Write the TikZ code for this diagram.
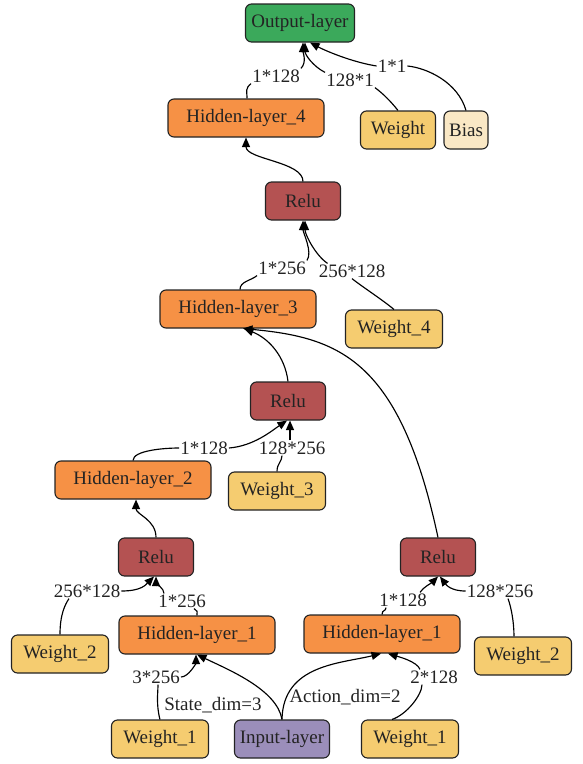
\documentclass[tikz,border=0pt]{standalone}
\usepackage{fontspec}
\setmainfont{Liberation Serif}
\usetikzlibrary{arrows.meta}
\definecolor{outc}{RGB}{59,169,91}
\definecolor{hidc}{RGB}{246,145,69}
\definecolor{reluc}{RGB}{180,82,82}
\definecolor{wgtc}{RGB}{245,204,112}
\definecolor{biasc}{RGB}{250,232,197}
\definecolor{inpc}{RGB}{155,142,186}
\definecolor{ink}{RGB}{35,35,35}
\begin{document}
\begin{tikzpicture}[x=1pt,y=-1pt,
  box/.style={draw=ink, line width=1.1pt, rounded corners=6pt, minimum height=38pt,
    inner sep=0pt, text=ink, font=\fontsize{19}{22}\selectfont},
  hid/.style={box, fill=hidc, minimum width=156pt},
  relu/.style={box, fill=reluc, minimum width=75pt},
  wgt/.style={box, fill=wgtc, minimum width=97pt},
  lbl/.style={inner sep=1pt, text=ink, font=\fontsize{19}{22}\selectfont},
  edge/.style={line width=1.15pt, draw=black},
  head/.style={edge, -{Triangle[length=9.5pt,width=8pt]}},
]
\useasboundingbox (0,0) rectangle (583,764);

% layer boxes
\node[box, fill=outc, minimum width=109pt] (out) at (300,23) {Output-layer};
\node[hid] (h4) at (246,118) {Hidden-layer\_4};
\node[box, fill=wgtc, minimum width=75pt] (wt) at (398,130) {Weight};
\node[box, fill=biasc, minimum width=44pt] (bias) at (466,130) {Bias};
\node[relu] (r4) at (303,201) {Relu};
\node[hid] (h3) at (238,309) {Hidden-layer\_3};
\node[wgt] (w4) at (394,329) {Weight\_4};
\node[relu] (r3) at (288,401) {Relu};
\node[hid] (h2) at (133,480) {Hidden-layer\_2};
\node[wgt] (w3) at (277,491) {Weight\_3};
\node[relu] (r2l) at (156,557) {Relu};
\node[relu] (r2r) at (438,557) {Relu};
\node[wgt] (w2l) at (60,654) {Weight\_2};
\node[hid] (h1l) at (197,635) {Hidden-layer\_1};
\node[hid] (h1r) at (382,634) {Hidden-layer\_1};
\node[wgt] (w2r) at (523,656) {Weight\_2};
\node[wgt] (w1l) at (160,739) {Weight\_1};
\node[box, fill=inpc, minimum width=95pt] (inp) at (282,739) {Input-layer};
\node[wgt] (w1r) at (410,739) {Weight\_1};

% edge labels
\node[lbl] (l1) at (276,76) {1*128};
\node[lbl] (l2) at (350,80) {128*1};
\node[lbl] (l3) at (392,66) {1*1};
\node[lbl] (l5) at (282,268) {1*256};
\node[lbl] (l6) at (352,271) {256*128};
\node[lbl] (l9) at (204,448) {1*128};
\node[lbl] (l10) at (292,448) {128*256};
\node[lbl] (l11) at (182,601) {1*256};
\node[lbl] (l12) at (87,591) {256*128};
\node[lbl] (l14) at (403,600) {1*128};
\node[lbl] (l15) at (500,591) {128*256};
\node[lbl] (l16) at (156,677) {3*256};
\node[lbl] (l17) at (213,705) {State\_dim=3};
\node[lbl] (l18) at (345,697) {Action\_dim=2};
\node[lbl] (l19) at (434,677) {2*128};

% into the output layer
\draw[edge] ([xshift=1]h4.north) .. controls +(0,-8) and +(-6,5) .. (l1.south west);
\draw[head] (l1.north east) .. controls +(6,-6) and +(0,10) .. ([xshift=3]out.south);
\draw[edge] (wt.north) .. controls +(-8,-10) and +(8,6) .. (l2.south east);
\draw[head] (l2.north west) .. controls +(-12,-6) and +(0,12) .. ([xshift=5]out.south);
\draw[edge] (bias.north) .. controls +(-8,-28) and +(20,2) .. (l3.east);
\draw[head] (l3.west) .. controls +(-25,-4) and +(15,8) .. ([xshift=10]out.south);

% fourth hidden block
\draw[head] (r4.north) .. controls +(0,-20) and +(0,22) .. (h4.south);
\draw[edge] ([xshift=2]h3.north) .. controls +(0,-8) and +(-6,5) .. (l5.south west);
\draw[head] (l5.north east) .. controls +(6,-8) and +(0,12) .. (r4.south);
\draw[edge] (w4.north) .. controls +(-12,-10) and +(10,8) .. (l6.south);
\draw[head] ([xshift=10]l6.north west) .. controls +(-12,-8) and +(0,14) .. ([xshift=2]r4.south);

% third hidden block
\draw[head] (r3.north) .. controls +(-3,-25) and +(25,10) .. ([xshift=6]h3.south);
\draw[head] (r2r.north) .. controls +(-38,-178) and +(96,9) .. ([xshift=5]h3.south);
\draw[edge] (h2.north) .. controls +(0,-10) and +(-15,0) .. (l9.west);
\draw[head] (l9.east) .. controls +(25,-2) and +(-15,10) .. ([xshift=-1]r3.south);
\draw[edge] (w3.north) .. controls +(0,-8) and +(0,6) .. ([xshift=-10]l10.south);
\draw[head] ([xshift=-2]l10.north) .. controls +(0,-6) and +(0,6) .. ([xshift=2]r3.south);

% second hidden block
\draw[head] (r2l.north) .. controls +(0,-18) and +(0,15) .. ([xshift=3]h2.south);
\draw[edge] (h1l.north) .. controls +(0,-6) and +(4,4) .. ([xshift=12]l11.south);
\draw[head] ([xshift=-18]l11.north) .. controls +(0,-5) and +(0,6) .. (r2l.south);
\draw[edge] (w2l.north) .. controls +(0,-20) and +(-4,6) .. ([xshift=-18]l12.south);
\draw[head] (l12.east) .. controls +(20,0) and +(-8,8) .. ([xshift=-2]r2l.south);
\draw[edge] (h1r.north) .. controls +(0,-5) and +(0,4) .. ([xshift=-17]l14.south);
\draw[head] ([xshift=17]l14.north) .. controls +(3,-5) and +(-6,6) .. (r2r.south);
\draw[edge] ([xshift=-9]w2r.north) .. controls +(0,-15) and +(3,8) .. ([xshift=8]l15.south);
\draw[head] (l15.west) .. controls +(-15,0) and +(6,8) .. ([xshift=2]r2r.south);

% first hidden block
\draw[edge] (w1l.north) .. controls +(-4,-15) and +(0,8) .. ([xshift=2]l16.south);
\draw[head] (l16.east) .. controls +(8,0) and +(0,8) .. ([xshift=-1]h1l.south);
\draw[head] (inp.north) .. controls +(-5,-30) and +(31,15) .. (h1l.south);
\draw[head] (inp.north) .. controls +(1,-55) and +(-40,10) .. ([xshift=-1]h1r.south);
\draw[edge] ([xshift=-18]w1r.north) .. controls +(15,-5) and +(0,10) .. ([xshift=-12]l19.south);
\draw[head] ([xshift=-14]l19.north) .. controls +(-3,-8) and +(10,3) .. ([xshift=6]h1r.south);
\end{tikzpicture}
\end{document}
